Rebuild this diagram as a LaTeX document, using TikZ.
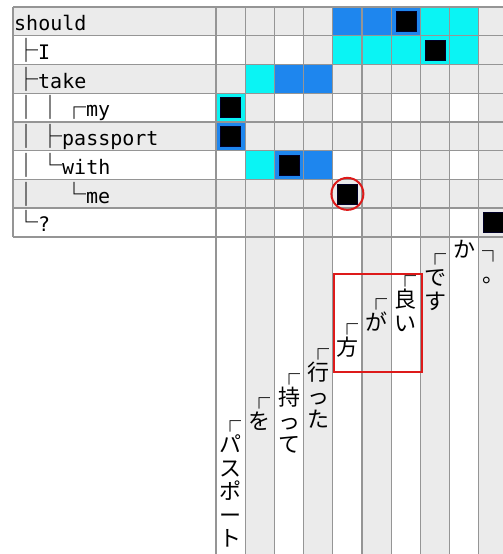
\documentclass[tikz,border=0pt]{standalone}
\usepackage{fontspec}
\setmonofont{DejaVu Sans Mono}
\newfontfamily\jpfont{Noto Sans CJK JP}
\usetikzlibrary{positioning}
\definecolor{cellgray}{HTML}{EBEBEB}
\definecolor{gridgray}{HTML}{959595}
\definecolor{depblue}{HTML}{1E86EE}
\definecolor{depcyan}{HTML}{0AF4F4}
\definecolor{markred}{HTML}{DD1A1A}
\newcommand{\bx}[1]{{\jpfont\bfseries\fontsize{24pt}{24pt}\selectfont #1}}
\newcommand{\brk}[1]{{\bfseries #1}}

\begin{document}
\begin{tikzpicture}[x=1pt, y=-1pt,
  gridline/.style={draw=gridgray, line width=1.1pt},
  rowlabel/.style={anchor=base west, inner sep=0pt, font=\ttfamily\fontsize{20pt}{24pt}\selectfont},
  jpcol/.style={anchor=north, inner sep=0pt, align=center, font=\jpfont\fontsize{22pt}{23.5pt}\selectfont},
  headmark/.style={fill=black, draw=black!85!blue, minimum size=20pt, inner sep=0pt}]
\useasboundingbox (0,0) rectangle (503,554);
\fill[white] (0,0) rectangle (503,554);
% striped columns and rows
\foreach \c in {2,4,...,10}
  \fill[cellgray] ({216+29.2*(\c-1)},7) rectangle ({216+29.2*\c},554);
\foreach \r in {1,3,5,7}
  \fill[cellgray] (13,{7+28.75*(\r-1)}) rectangle (508,{7+28.75*\r});
% dependency cells
\foreach \c/\r in {5/1,6/1,7/1,3/3,4/3,1/5,3/6,4/6}
  \fill[depblue] ({216+29.2*(\c-1)},{7+28.75*(\r-1)}) rectangle ({216+29.2*\c},{7+28.75*\r});
\foreach \c/\r in {8/1,9/1,5/2,6/2,7/2,8/2,9/2,2/3,1/4,2/6}
  \fill[depcyan] ({216+29.2*(\c-1)},{7+28.75*(\r-1)}) rectangle ({216+29.2*\c},{7+28.75*\r});
% grid
\foreach \r in {0,...,8}
  \draw[gridline] (13,{7+28.75*\r}) -- (508,{7+28.75*\r});
\draw[gridline] (13,7) -- (13,237);
\foreach \c in {0,...,10}
  \draw[gridline] ({216+29.2*\c},7) -- ({216+29.2*\c},554);
\draw[gridline, line width=2.4pt] (13,208.25) -- (508,208.25);
% heads
\foreach \c/\r/\n in {7/1/should,8/2/i,1/4/my,1/5/passport,3/6/with,5/7/me,10/8/q}
  \node[headmark] (m-\n) at ({216+29.2*(\c-0.5)},{7+28.75*(\r-0.5)}) {};
\draw[markred, line width=2pt] (m-me) circle (16pt);
% row labels
\node[rowlabel] (should) at (14,30.5) {should};
\node[rowlabel] (i) at (14,59.25) {\bx{├}I};
\node[rowlabel] (take) at (14,88) {\bx{├}take};
\node[rowlabel] (my) at (14,116.75) {\bx{││┌}my};
\node[rowlabel] (passport) at (14,145.5) {\bx{│├}passport};
\node[rowlabel] (with) at (14,174.25) {\bx{│└}with};
\node[rowlabel] (me) at (14,203) {\bx{│　└}me};
\node[rowlabel] (q) at (14,231.75) {\bx{└}?};
% vertical words
\node[jpcol] (w1) at (230.6,420) {\brk{┌}\\パ\\ス\\ポ\\ー\\ト};
\node[jpcol] (w2) at (259.8,397) {\brk{┌}\\を};
\node[jpcol] (w3) at (289,373) {\brk{┌}\\持\\っ\\て};
\node[jpcol] (w4) at (318.2,348) {\brk{┌}\\行\\っ\\た};
\node[jpcol] (w5) at (347.4,323) {\brk{┌}\\方};
\node[jpcol] (w6) at (376.6,298) {\brk{┌}\\が};
\node[jpcol] (w7) at (405.8,275) {\brk{┌}\\良\\い};
\node[jpcol] (w8) at (435,253) {\brk{┌}\\で\\す};
\node[jpcol] (w9) at (464.2,240) {か};
\node[jpcol] (w10) at (493.4,250) {\brk{┐}\\。};
\draw[markred, line width=2.2pt] (334,274) rectangle (422,372);
\end{tikzpicture}
\end{document}
